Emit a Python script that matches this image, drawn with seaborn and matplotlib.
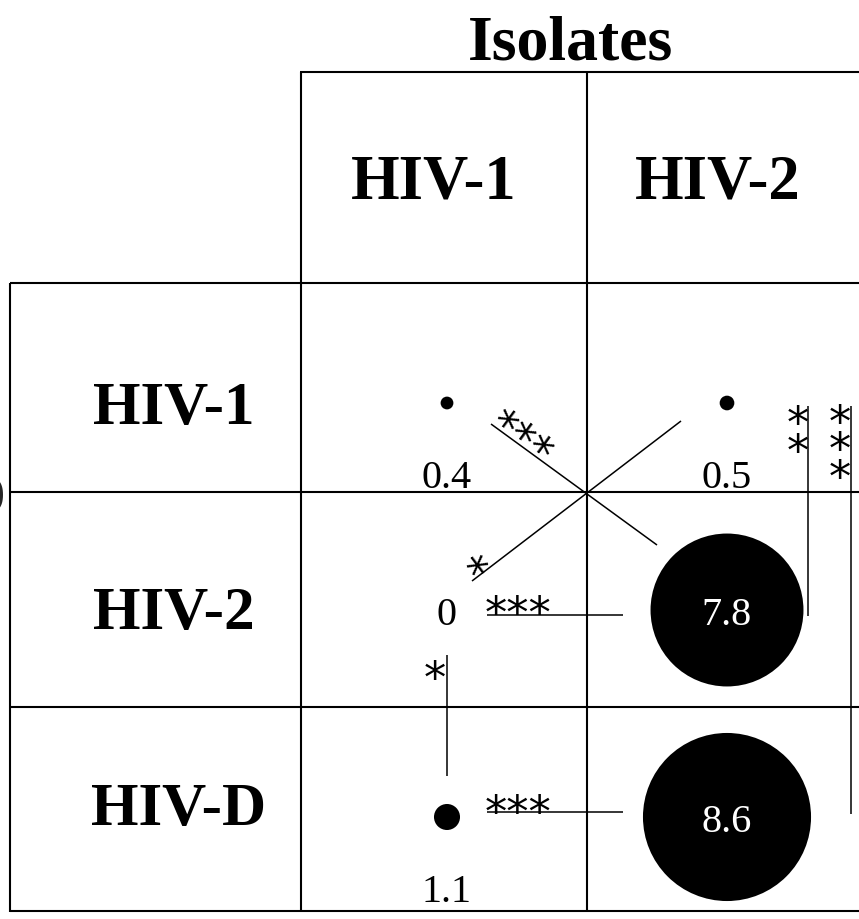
import numpy as np
import pandas as pd
import seaborn as sns
import matplotlib
matplotlib.use("Agg")
import matplotlib.pyplot as plt
import matplotlib.transforms as mtransforms
from matplotlib.lines import Line2D

# ---------------- data ----------------
title = "Isolates"
serum_rows = ["HIV-1", "HIV-2", "HIV-D"]
isolate_cols = ["HIV-1", "HIV-2"]
vals_isolate_hiv1 = [0.4, 0.0, 1.1]
vals_isolate_hiv2 = [0.5, 7.8, 8.6]

df = pd.DataFrame({
    "serum": serum_rows * 2,
    "isolate": [isolate_cols[0]] * 3 + [isolate_cols[1]] * 3,
    "value": vals_isolate_hiv1 + vals_isolate_hiv2,
})

# ---------------- figure ----------------
W, H, DPI = 859, 920, 100
sns.set_theme(style="white")
plt.rcParams["font.family"] = ["Liberation Serif", "DejaVu Serif"]

fig = plt.figure(figsize=(W / DPI, H / DPI), dpi=DPI)
ax = fig.add_axes([0, 0, 1, 1])
ax.set_axis_off()

# bubble radius (pixels) grows linearly with value
def radius_px(v):
    return 2.6 + 9.47 * v

sizes = {v: ((2 * radius_px(v) * 72 / DPI) ** 2 if v > 0 else 0.0) for v in df["value"].unique()}

sns.scatterplot(data=df, x="isolate", y="serum", size="value", sizes=sizes,
                color="black", linewidth=0, legend=False, ax=ax, zorder=3)

# map category index -> pixel: col x = 447 + 280*i ; row y = 404 + 207*j
ax.set_xlim(-447 / 280, (W - 447) / 280)
ax.set_ylim((H - 404) / 207, -404 / 207)
ax.set_axis_off()

# value labels
for _, r in df.iterrows():
    ci = isolate_cols.index(r["isolate"])
    ri = serum_rows.index(r["serum"])
    v = r["value"]
    lab = f"{v:g}"
    if v > 5:
        ax.text(ci, ri + 0.067, lab, ha="center", va="baseline", color="white",
                fontsize=29, zorder=4)
    elif v == 0:
        ax.text(ci, ri + 0.067, lab, ha="center", va="baseline", color="black",
                fontsize=29, zorder=4)
    else:
        ax.text(ci, ri + 0.406, lab, ha="center", va="baseline", color="black",
                fontsize=29, zorder=4)

# ---------------- pixel-space decorations ----------------
px = mtransforms.Affine2D().scale(1, -1).translate(0, H)

def line(x0, y0, x1, y1, lw=1.5):
    fig.add_artist(Line2D([x0, x1], [y0, y1], transform=px, color="black",
                          lw=lw, solid_capstyle="butt"))

def text(x, y, s, **kw):
    fig.text(x, y, s, transform=px, **kw)

# table grid
line(300, 73, W, 73)
line(301, 73, 301, 913)
line(587, 73, 587, 913)
line(10, 284, W, 284)
line(10, 284, 10, 913)
line(10, 493, W, 493)
line(10, 708, W, 708)
line(10, 912, W, 912)

# headings
bold = dict(fontweight="bold", color="black", ha="center", va="baseline")
text(571, 60, title, fontsize=46, **bold)
for cx, lab in zip([434, 718], isolate_cols):
    text(cx, 199, lab, fontsize=45, **bold)
for (cx, by), lab in zip([(174, 424), (174, 629), (179, 825)], serum_rows):
    text(cx, by, lab, fontsize=44, **bold)

text(4, 505, ")", fontsize=30, ha="right", va="baseline")

# significance lines
slw = 1.1
star = dict(family=["DejaVu Sans"], fontsize=32, color="black")
# horizontal
line(487, 616, 623, 616, slw)
text(485, 628, "***", ha="left", va="baseline", **star)
line(487, 813, 623, 813, slw)
text(485, 827, "***", ha="left", va="baseline", **star)
# vertical in HIV-1 column
line(447, 656, 447, 777, slw)
text(435, 693, "*", ha="center", va="baseline", **star)
# diagonals
line(491, 425, 657, 546, slw)
text(485, 432, "***", ha="left", va="baseline", rotation=-36,
     rotation_mode="anchor", **star)
line(472, 582, 681, 422, slw)
text(491, 583, "*", ha="center", va="baseline", rotation=37,
     rotation_mode="anchor", **star)
# verticals on the right (va='baseline' aligns the last line)
line(808, 407, 808, 617, slw)
text(798, 466, "*\n*", ha="center", va="baseline", linespacing=0.55, **star)
line(851, 407, 851, 815, slw)
text(840, 492, "*\n*\n*", ha="center", va="baseline", linespacing=0.55, **star)

fig.savefig("out.png", dpi=DPI)
